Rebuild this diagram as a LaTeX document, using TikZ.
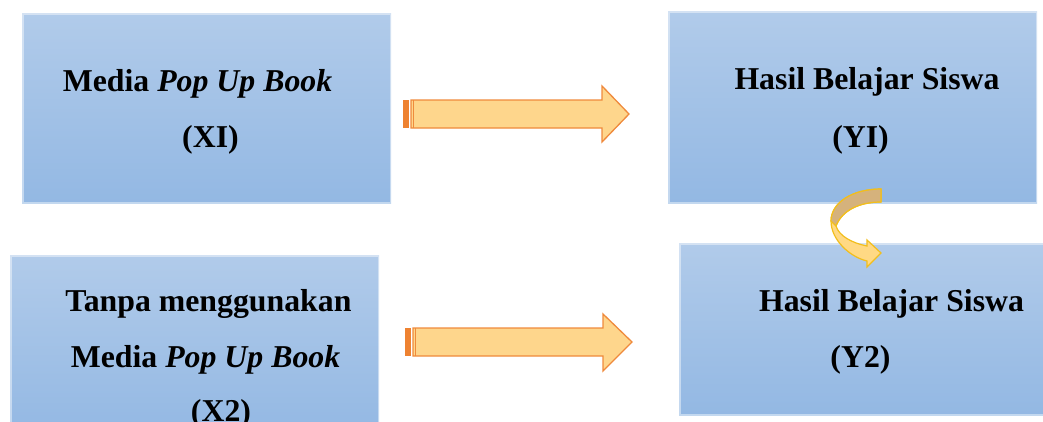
\documentclass[tikz,border=0pt]{standalone}
\usepackage{fontspec}
\setmainfont{Liberation Serif}
\definecolor{boxtop}{HTML}{B1CBEA}
\definecolor{boxbot}{HTML}{93B8E3}
\definecolor{arrfill}{HTML}{FED68C}
\definecolor{arrline}{HTML}{EF8A3C}
\definecolor{arrdark}{HTML}{EE8231}
\definecolor{curvdark}{HTML}{D5B27C}
\definecolor{curvlight}{HTML}{FFD984}
\definecolor{curvline}{HTML}{F2BE1C}
\tikzset{
  box/.style={rectangle, inner sep=0pt, anchor=north west,
    top color=boxtop, bottom color=boxbot},
  softedge/.style={draw=white, draw opacity=0.45, line width=3pt},
  lbl/.style={font=\fontsize{31.8}{38}\selectfont\bfseries, anchor=base, inner sep=0pt},
  blockarrow/.style={fill=arrfill, draw=arrline, line width=1.3pt, line join=miter},
  stripe/.style={fill=arrdark},
  curvback/.style={fill=curvdark, draw=curvline, line width=1.2pt, line join=round},
  curvfront/.style={fill=curvlight, draw=curvline, line width=1.2pt, line join=miter},
}
\begin{document}
\begin{tikzpicture}[x=1pt,y=-1pt]
\useasboundingbox (0,0) rectangle (1043,421);
\begin{scope}
\clip (0,0) rectangle (1043,421);
% boxes with soft edges
\node[box, minimum width=369pt, minimum height=190pt] (x1) at (22,13) {};
\node[box, minimum width=369pt, minimum height=192pt] (y1) at (668,11) {};
\node[box, minimum width=369pt, minimum height=180pt] (x2) at (10,255) {};
\node[box, minimum width=380pt, minimum height=172pt] (y2) at (679,243) {};
\foreach \b in {x1,y1,x2,y2}
  \draw[softedge] (\b.north west) rectangle (\b.south east);

% labels
\node[lbl] (x1a) at (197.5,91) {Media \textit{Pop Up Book}};
\node[lbl] (x1b) at (210.5,147) {(XI)};
\node[lbl] (y1a) at (867,89) {Hasil Belajar Siswa};
\node[lbl] (y1b) at (860.5,147) {(YI)};
\node[lbl] (x2a) at (208.5,311) {Tanpa menggunakan};
\node[lbl] (x2b) at (205.5,367) {Media \textit{Pop Up Book}};
\node[lbl] (x2c) at (221,421) {(X2)};
\node[lbl] (y2a) at (891.5,311) {Hasil Belajar Siswa};
\node[lbl] (y2b) at (860.5,367) {(Y2)};

% block arrow X1 -> Y1
\fill[stripe] (403,100) rectangle (409,128);
\path[blockarrow] (411,100) -- (602,100) -- (602,86) -- (629,114) -- (602,142)
  -- (602,128) -- (411,128) -- cycle;
\draw[arrline, line width=1.3pt] (413.5,100) -- (413.5,128);

% block arrow X2 -> Y2
\fill[stripe] (405,328) rectangle (411,356);
\path[blockarrow] (413,328) -- (603,328) -- (603,314) -- (632,342) -- (603,371)
  -- (603,356) -- (413,356) -- cycle;
\draw[arrline, line width=1.3pt] (415.5,328) -- (415.5,356);

% curved arrow Y1 -> Y2
\path[curvfront] (881,189) .. controls (852,189) and (831,203) .. (831,221)
  .. controls (831,240) and (850,257) .. (867,261) -- (867,267) -- (881,253)
  -- (867,240) -- (867,246)
  .. controls (852,243) and (839,236) .. (836,226)
  .. controls (842,210) and (860,202) .. (881,202) -- cycle;
\path[curvback] (881,189) .. controls (852,189) and (831,203) .. (831,221)
  -- (836,226)
  .. controls (842,210) and (860,202) .. (881,202) -- cycle;
\end{scope}
\end{tikzpicture}
\end{document}
